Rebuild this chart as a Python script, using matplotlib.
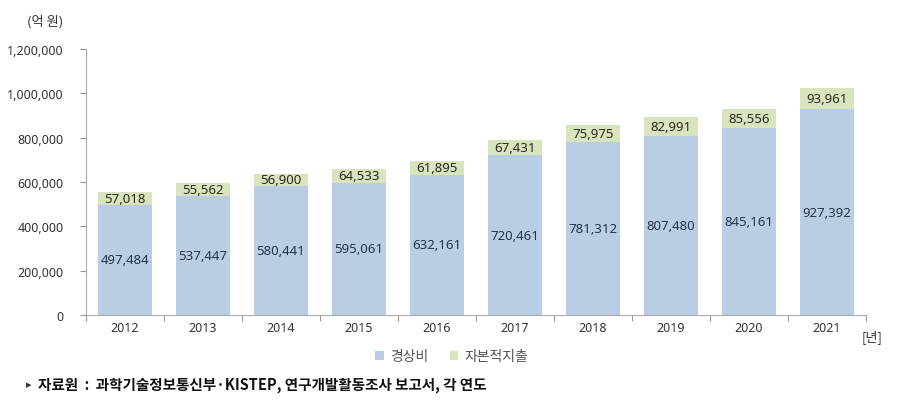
import matplotlib
matplotlib.use("Agg")
import matplotlib.pyplot as plt
from matplotlib.patches import Patch

plt.rcParams['font.family'] = ['Noto Sans CJK KR', 'DejaVu Sans']

years = ['2012', '2013', '2014', '2015', '2016', '2017', '2018', '2019', '2020', '2021']
current = [497484, 537447, 580441, 595061, 632161, 720461, 781312, 807480, 845161, 927392]
capital = [57018, 55562, 56900, 64533, 61895, 67431, 75975, 82991, 85556, 93961]
series_names = ['경상비', '자본적지출']
yticks = [0, 200000, 400000, 600000, 800000, 1000000, 1200000]

blue = '#b9cde5'
green = '#d7e4bd'
numfont = ['Noto Sans', 'DejaVu Sans']

fig = plt.figure(figsize=(9, 4.02), dpi=100)
ax = fig.add_axes([0.0956, 0.214, 0.8664, 0.662])

x = list(range(len(years)))
ax.bar(x, current, width=0.7, color=blue, linewidth=0)
ax.bar(x, capital, width=0.7, bottom=current, color=green, linewidth=0)

for xi, c, k in zip(x, current, capital):
    ax.text(xi, c / 2, f'{c:,}', ha='center', va='center', fontsize=9.5, color='#26334a',
            family=numfont)
    ax.text(xi, c + k / 2, f'{k:,}', ha='center', va='center', fontsize=9.5, color='#2b2b1e',
            family=numfont)

ax.set_xlim(-0.5, len(years) - 0.5)
ax.set_ylim(0, 1200000)
ax.set_yticks(yticks)
ax.set_yticklabels([f'{v:,}' for v in yticks], fontsize=9, color='#333333', family=numfont)
ax.set_xticks([i + 0.5 for i in range(-1, len(years))], minor=False)
ax.set_xticklabels([])
ax.set_xticks(x, minor=True)
ax.set_xticklabels(years, minor=True, fontsize=9, color='#333333', family=numfont)
ax.tick_params(axis='x', which='major', length=4, color='#999999', direction='out')
ax.tick_params(axis='x', which='minor', length=0, pad=4)
ax.tick_params(axis='y', length=4, color='#999999', pad=12)

for s in ['top', 'right']:
    ax.spines[s].set_visible(False)
for s in ['left', 'bottom']:
    ax.spines[s].set_color('#aaaaaa')
    ax.spines[s].set_linewidth(0.8)

fig.text(45 / 900, 1 - 22 / 402, '(억 원)', ha='center', va='center', fontsize=9.5, color='#333333')
fig.text(862 / 900, 1 - 337 / 402, '[년]', ha='left', va='center', fontsize=9.5, color='#333333')

handles = [Patch(facecolor=blue, edgecolor='none'), Patch(facecolor=green, edgecolor='none')]
fig.legend(handles, series_names, loc='center', bbox_to_anchor=(452 / 900, 1 - 357 / 402),
           ncol=2, frameon=False, fontsize=10, handlelength=0.6, handleheight=0.6,
           handletextpad=0.5, columnspacing=1.5, labelcolor='#555555')

fig.text(26 / 900, 1 - 385 / 402, '▸', ha='left', va='center', fontsize=8, color='#333333',
         family=['DejaVu Sans'])
fig.text(38 / 900, 1 - 385 / 402, '자료원  :  과학기술정보통신부·KISTEP, 연구개발활동조사 보고서, 각 연도',
         ha='left', va='center', fontsize=10.5, fontweight='bold', color='#111111')

fig.savefig('out.png', dpi=100)
